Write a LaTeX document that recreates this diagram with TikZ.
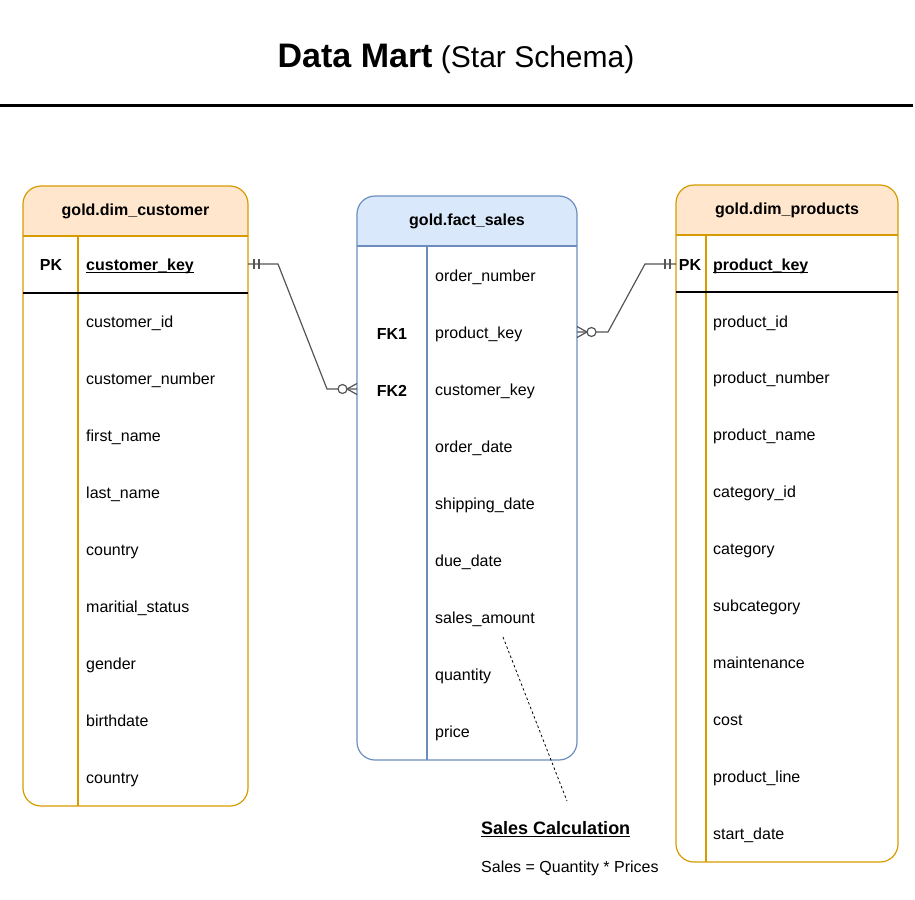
\documentclass[tikz,border=0pt]{standalone}
\usepackage{fontspec}
\setmainfont{Liberation Sans}
\usetikzlibrary{calc}

\definecolor{dimfill}{HTML}{FFE6CC}
\definecolor{dimline}{HTML}{D79B00}
\definecolor{factfill}{HTML}{DAE8FC}
\definecolor{factline}{HTML}{6C8EBF}
\definecolor{relgray}{HTML}{555555}

\newcommand{\keyline}[1]{\setbox0\hbox{#1}\rlap{\rule[-2.5pt]{\wd0}{1pt}}\box0}

\tikzset{
  tbl/.style={draw, line width=1.2pt, rounded corners=18pt, inner sep=0pt, outer sep=0pt},
  hdr/.style={anchor=center, font=\fontsize{16}{19}\selectfont\bfseries},
  fld/.style={anchor=west, inner sep=0pt, text height=12pt, text depth=0pt, font=\fontsize{16}{19}\selectfont},
  keyname/.style={fld, anchor=center, font=\fontsize{16}{19}\selectfont\bfseries},
  rel/.style={draw=relgray, line width=1.2pt},
}

\begin{document}
\begin{tikzpicture}[x=1pt,y=-1pt]
    \useasboundingbox (0,0) rectangle (915,899);

    % Title and rule
    \node[anchor=base, font=\fontsize{30}{36}\selectfont] (title) at (456,67)
        {{\fontsize{34}{40}\selectfont\bfseries Data Mart} (Star Schema)};
    \draw[line width=3pt] (0,105.5) -- (913,105.5);

    % The customer table
    \node[tbl, draw=dimline, minimum width=225pt, minimum height=620pt,
          path picture={\fill[dimfill, sharp corners] (path picture bounding box.north west) rectangle ([yshift=-50pt]path picture bounding box.north east);}]
          (cust) at (135.5,496) {};
    \draw[dimline, line width=1.2pt] ([yshift=-50pt]cust.north west) -- ([yshift=-50pt]cust.north east);
    \draw[dimline, line width=1.2pt] ([xshift=55pt,yshift=-50pt]cust.north west) -- ([xshift=55pt]cust.south west);
    \draw[line width=1.2pt] ([yshift=-107pt]cust.north west) -- ([yshift=-107pt]cust.north east);
    \node[hdr] (custhead) at (135.5,211) {gold.dim\_customer};
    \node[keyname] (cpk) at (51,264) {PK};
    \node[fld, font=\fontsize{16}{19}\selectfont\bfseries] (ckey) at (86,264) {\keyline{customer\_key}};
    \foreach \col [count=\i] in {customer\_id, customer\_number, first\_name, last\_name, country,
                                 maritial\_status, gender, birthdate, country}
        \node[fld] (c\i) at (86,{321+57.1*(\i-1)}) {\col};

    % The fact table
    \node[tbl, draw=factline, minimum width=220pt, minimum height=564pt,
          path picture={\fill[factfill, sharp corners] (path picture bounding box.north west) rectangle ([yshift=-50pt]path picture bounding box.north east);}]
          (fact) at (467,478) {};
    \draw[factline, line width=1.2pt] ([yshift=-50pt]fact.north west) -- ([yshift=-50pt]fact.north east);
    \draw[factline, line width=1.2pt] ([xshift=70pt,yshift=-50pt]fact.north west) -- ([xshift=70pt]fact.south west);
    \node[hdr] (facthead) at (467,221) {gold.fact\_sales};
    \node[keyname] (fk1) at (392,333) {FK1};
    \node[keyname] (fk2) at (392,390) {FK2};
    \foreach \col [count=\i] in {order\_number, product\_key, customer\_key, order\_date, shipping\_date,
                                 due\_date, sales\_amount, quantity, price}
        \node[fld] (f\i) at (435,{275+57*(\i-1)}) {\col};

    % The product table
    \node[tbl, draw=dimline, minimum width=222pt, minimum height=677pt,
          path picture={\fill[dimfill, sharp corners] (path picture bounding box.north west) rectangle ([yshift=-50pt]path picture bounding box.north east);}]
          (prod) at (787,523.5) {};
    \draw[dimline, line width=1.2pt] ([yshift=-50pt]prod.north west) -- ([yshift=-50pt]prod.north east);
    \draw[dimline, line width=1.2pt] ([xshift=30pt,yshift=-50pt]prod.north west) -- ([xshift=30pt]prod.south west);
    \draw[line width=1.2pt] ([yshift=-107pt]prod.north west) -- ([yshift=-107pt]prod.north east);
    \node[hdr] (prodhead) at (787,210) {gold.dim\_products};
    \node[keyname] (ppk) at (690,264) {PK};
    \node[fld, font=\fontsize{16}{19}\selectfont\bfseries] (pkey) at (713,264) {\keyline{product\_key}};
    \foreach \col [count=\i] in {product\_id, product\_number, product\_name, category\_id, category,
                                 subcategory, maintenance, cost, product\_line, start\_date}
        \node[fld] (p\i) at (713,{321+56.9*(\i-1)}) {\col};

    % The relations
    \draw[rel] (cust.east |- ckey) -- ++(30,0) -- ($(fact.west |- f3)+(-30,0)$) -- (fact.west |- f3);
    \draw[rel] (fact.east |- f2) -- ++(31,0) -- ($(prod.west |- pkey)+(-31,0)$) -- (prod.west |- pkey);

    % One side marks
    \draw[rel] ($(cust.east |- ckey)+(6,-5)$) -- ++(0,10);
    \draw[rel] ($(cust.east |- ckey)+(11,-5)$) -- ++(0,10);
    \draw[rel] ($(prod.west |- pkey)+(-6,-5)$) -- ++(0,10);
    \draw[rel] ($(prod.west |- pkey)+(-11,-5)$) -- ++(0,10);

    % Many side marks
    \draw[rel, fill=white] ($(fact.west |- f3)+(-14.5,0)$) circle (4.5pt);
    \draw[rel] ($(fact.west |- f3)+(0,-5.5)$) -- ($(fact.west |- f3)+(-10,0)$) -- ($(fact.west |- f3)+(0,5.5)$);
    \draw[rel, fill=white] ($(fact.east |- f2)+(14.5,0)$) circle (4.5pt);
    \draw[rel] ($(fact.east |- f2)+(0,-5.5)$) -- ($(fact.east |- f2)+(10,0)$) -- ($(fact.east |- f2)+(0,5.5)$);

    % The note
    \node[fld, font=\fontsize{18}{21}\selectfont\bfseries] (calc) at (481,828) {\keyline{Sales Calculation}};
    \node[fld] (formula) at (481,866) {Sales = Quantity * Prices};
    \coordinate (amt) at (503,637);
    \coordinate (calctip) at (567,801);
    \draw[dashed, line width=0.8pt, dash pattern=on 2.5pt off 2.5pt] (amt) -- (calctip);
\end{tikzpicture}
\end{document}
